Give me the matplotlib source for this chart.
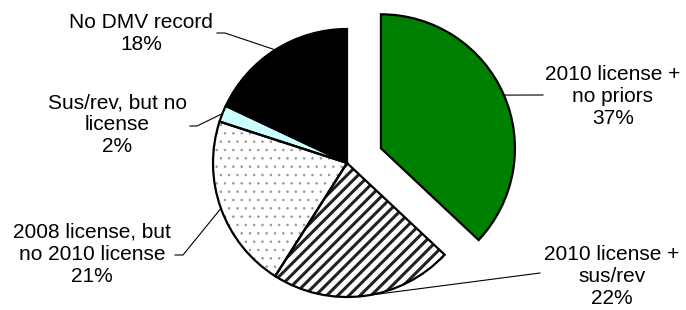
import matplotlib
matplotlib.use("Agg")
import matplotlib.pyplot as plt
import numpy as np

# Data
labels = ["2010 license +\nno priors", "2010 license +\nsus/rev",
          "2008 license, but\nno 2010 license", "Sus/rev, but no\nlicense",
          "No DMV record"]
shares = [37, 22, 21, 2, 18]
colors = ["#008000", "white", "white", "#CCFFFF", "black"]
hatches = [None, "///", "..", None, None]
hatch_colors = ["#008000", "#222222", "#999999", "#CCFFFF", "black"]
explode = [0.276, 0, 0, 0, 0]  # fraction of radius

# label block centres and leader starts, in pixels from top-left
label_pos = [(613, 96), (612, 276), (92, 254), (117, 125), (141, 33)]
leader_start = [(543, 95), (540, 273), (175, 255), (190, 126), (217, 33)]
leader_knee = [None, None, (183, 255), (197, 126), (225, 33)]

W, H = 686, 310
cx, cy, R = 347, H - 163, 134
expl_px = [e * R for e in explode]

plt.rcParams['font.family'] = ['Liberation Sans', 'DejaVu Sans']
plt.rcParams['hatch.linewidth'] = 2.2
fig = plt.figure(figsize=(W / 100, H / 100), dpi=100)
ax = fig.add_axes([0, 0, 1, 1])

# fills + hatches
wedges, _ = ax.pie(shares, colors=colors, explode=expl_px, startangle=90,
                   counterclock=False, center=(cx, cy), radius=R,
                   wedgeprops=dict(linewidth=0), frame=True)
for w, h, hc in zip(wedges, hatches, hatch_colors):
    w.set_edgecolor(hc)
    w.set_linewidth(0)
    if h:
        w.set_hatch(h)
        if h == ".." and hasattr(w, 'set_hatch_linewidth'):
            w.set_hatch_linewidth(0.6)
# outlines
ax.pie(shares, explode=expl_px, startangle=90, counterclock=False,
       center=(cx, cy), radius=R, frame=True,
       wedgeprops=dict(fill=False, edgecolor='black', linewidth=1.6))
ax.set_xlim(0, W)
ax.set_ylim(0, H)
ax.set_aspect('equal')
ax.axis('off')

# labels and leader lines
total = sum(shares)
start = 90.0
for i, (lab, s) in enumerate(zip(labels, shares)):
    span = 360.0 * s / total
    mid = np.deg2rad(start - span / 2)
    start -= span
    ex = cx + (R + expl_px[i]) * np.cos(mid)
    ey = cy + (R + expl_px[i]) * np.sin(mid)
    tx, ty = label_pos[i]
    ax.text(tx, H - ty, f"{lab}\n{s}%", ha='center', va='center',
            fontsize=15, linespacing=1.2)
    pts = [leader_start[i]]
    if leader_knee[i]:
        pts.append(leader_knee[i])
    xs = [p[0] for p in pts] + [ex]
    ys = [H - p[1] for p in pts] + [ey]
    ax.plot(xs, ys, color='black', linewidth=0.8)

fig.savefig("out.png", dpi=100)
